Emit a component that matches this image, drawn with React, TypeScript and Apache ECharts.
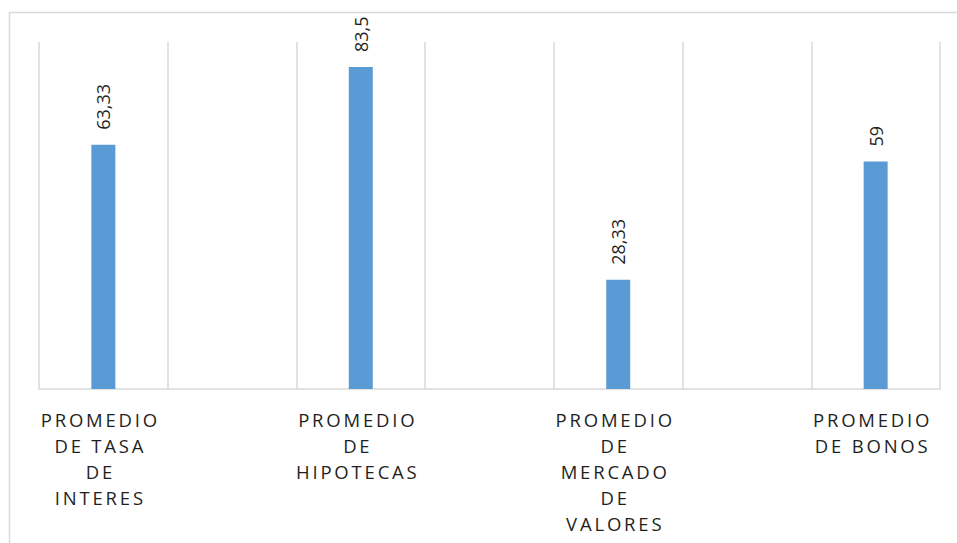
import React, { useEffect, useRef } from "react";
import * as echarts from "echarts";

// Data
const categories: string[] = [
  "PROMEDIO\nDE TASA\nDE\nINTERES",
  "PROMEDIO\nDE\nHIPOTECAS",
  "PROMEDIO\nDE\nMERCADO\nDE\nVALORES",
  "PROMEDIO\nDE BONOS",
];
const values: number[] = [63.33, 83.5, 28.33, 59];
const valueLabels: string[] = ["63,33", "83,5", "28,33", "59"];

export default function App() {
  const ref = useRef<HTMLDivElement>(null);
  useEffect(() => {
    if (!ref.current) return;
    const chart = echarts.init(ref.current, undefined, { renderer: "svg" });
    // interleave empty spacer slots between categories
    const axisCats: string[] = [];
    const axisData: (number | string)[] = [];
    const axisLbl: string[] = [];
    categories.forEach((c, i) => {
      if (i > 0) {
        axisCats.push("");
        axisData.push("-");
        axisLbl.push("");
      }
      axisCats.push(c);
      axisData.push(values[i]);
      axisLbl.push(valueLabels[i]);
    });
    chart.setOption({
      animation: false,
      graphic: [
        {
          type: "rect",
          shape: { x: 9.5, y: 12.5, width: 1000, height: 600 },
          style: { fill: "none", stroke: "#d9d9d9", lineWidth: 1.5 },
          silent: true,
        },
      ],
      grid: { left: 39, right: 17, top: 42, bottom: 154, containLabel: false },
      xAxis: {
        type: "category",
        data: axisCats,
        boundaryGap: true,
        axisTick: { show: false },
        axisLine: { show: true, lineStyle: { color: "#d9d9d9", width: 1.5 } },
        splitLine: { show: true, interval: 0, lineStyle: { color: "#d9d9d9", width: 1.5 } },
        axisLabel: {
          interval: 0,
          margin: 17,
          color: "#1f1f1f",
          fontSize: 18.5,
          lineHeight: 26,
          fontFamily: "Open Sans, Noto Sans",
          align: "center",
          verticalAlign: "top",
          padding: [0, 6, 0, 0],
        },
      },
      yAxis: {
        type: "value",
        min: 0,
        max: 90,
        show: false,
        splitLine: { show: false },
      },
      series: [
        {
          type: "bar",
          data: axisData,
          barWidth: 24,
          itemStyle: { color: "#5b9bd5" },
          label: {
            show: true,
            position: "top",
            rotate: 90,
            align: "left",
            verticalAlign: "middle",
            distance: 15,
            color: "#1f1f1f",
            fontSize: 18,
            fontFamily: "Open Sans",
            formatter: (p: any) => axisLbl[p.dataIndex],
          },
        },
      ],
    });
    return () => chart.dispose();
  }, []);
  return (
    <>
      <style>{`#chartbox text[style*="Noto Sans"] { letter-spacing: 2.8px; }`}</style>
      <div
        id="chartbox"
        ref={ref}
        style={{ position: "fixed", left: 0, top: 0, width: 957, height: 543, background: "#fff" }}
      />
    </>
  );
}
